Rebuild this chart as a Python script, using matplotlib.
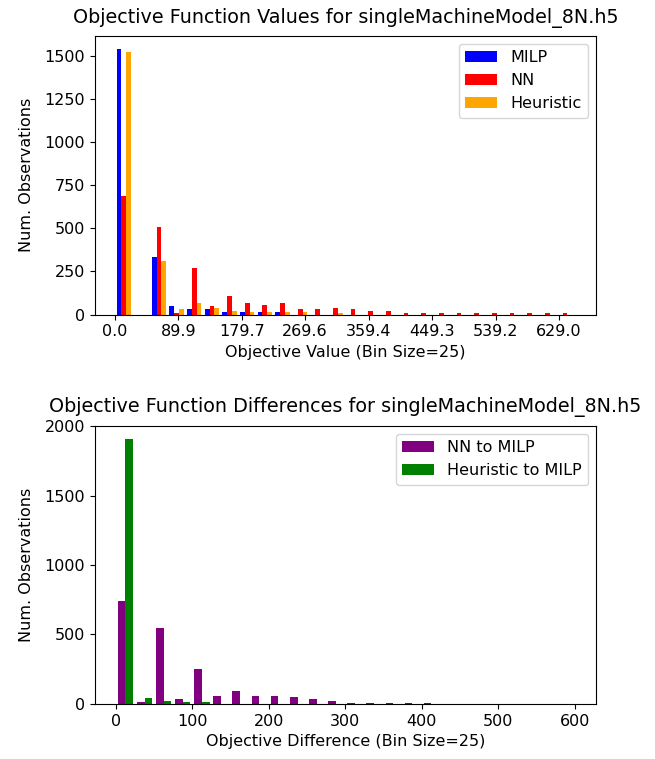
import numpy as np
import matplotlib
matplotlib.use('Agg')
import matplotlib.pyplot as plt
from matplotlib.ticker import MultipleLocator

plt.rcParams['font.size'] = 11.5

model_name = "singleMachineModel_8N.h5"
bin_size = 25

# --- Objective values (counts per 25-wide bin, 0..650) ---
value_edges = np.arange(0, 651, bin_size)
milp_counts = [1540, 0, 336, 50, 31, 31, 12, 12, 12, 12, 0, 0, 0,
               0, 0, 0, 0, 0, 0, 0, 0, 0, 0, 0, 0, 0]
nn_counts = [690, 0, 508, 10, 270, 50, 106, 67, 58, 67, 31, 31, 40,
             33, 23, 23, 10, 10, 10, 10, 10, 10, 10, 10, 10, 10]
heur_counts = [1523, 0, 310, 31, 69, 40, 19, 12, 12, 12, 12, 0, 8,
               0, 0, 0, 0, 0, 0, 0, 0, 0, 0, 0, 0, 0]
value_labels = ["MILP", "NN", "Heuristic"]
value_colors = ["blue", "red", "orange"]
value_ticks = [0.0, 89.9, 179.7, 269.6, 359.4, 449.3, 539.2, 629.0]

# --- Objective differences (counts per 25-wide bin, 0..600) ---
diff_edges = np.arange(0, 601, bin_size)
nn_diff_counts = [740, 12, 548, 36, 251, 60, 96, 60, 60, 48, 36, 20,
                  10, 10, 10, 10, 10, 0, 0, 0, 0, 0, 0, 0]
heur_diff_counts = [1905, 45, 22, 12, 12, 0, 0, 0, 0, 0, 0, 0,
                    0, 0, 0, 0, 0, 0, 0, 0, 0, 0, 0, 0]
diff_labels = ["NN to MILP", "Heuristic to MILP"]
diff_colors = ["purple", "green"]

fig = plt.figure(figsize=(6.55, 7.59), dpi=100)
ax1 = fig.add_axes([0.145, 0.5856, 0.7645, 0.367])
ax2 = fig.add_axes([0.145, 0.0725, 0.7645, 0.3662])

# top: grouped histogram of objective values
centers = (value_edges[:-1] + value_edges[1:]) / 2
ax1.hist([centers] * 3, bins=value_edges,
         weights=[milp_counts, nn_counts, heur_counts],
         color=value_colors, label=value_labels)
ax1.set_xlim(-28, 681)
ax1.set_xticks(value_ticks)
ax1.set_xticklabels([f"{t:.1f}" for t in value_ticks])
ax1.yaxis.set_major_locator(MultipleLocator(250))
ax1.set_title(f"Objective Function Values for {model_name}", pad=9)
ax1.set_xlabel(f"Objective Value (Bin Size={bin_size})")
ax1.set_ylabel("Num. Observations", labelpad=8)
ax1.legend(loc="upper right")

# bottom: grouped histogram of differences
dcenters = (diff_edges[:-1] + diff_edges[1:]) / 2
ax2.hist([dcenters] * 2, bins=diff_edges,
         weights=[nn_diff_counts, heur_diff_counts],
         color=diff_colors, label=diff_labels)
ax2.yaxis.set_major_locator(MultipleLocator(500))
ax2.set_title(f"Objective Function Differences for {model_name}", pad=10)
ax2.set_xlabel(f"Objective Difference (Bin Size={bin_size})")
ax2.set_ylabel("Num. Observations", labelpad=8)
ax2.legend(loc="upper right")

fig.savefig("out.png", dpi=100)
